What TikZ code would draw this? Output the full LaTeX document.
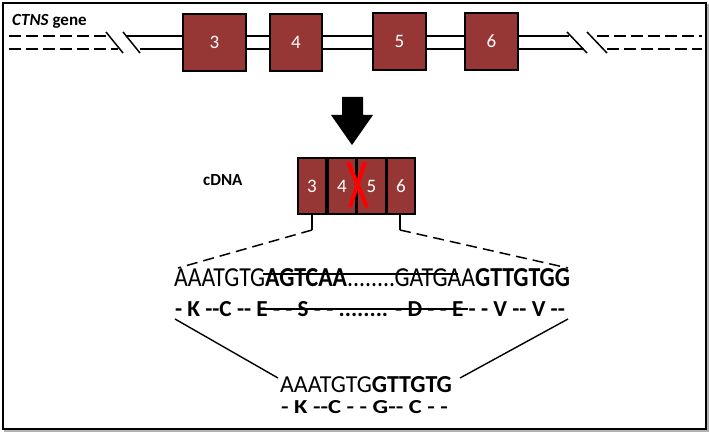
\documentclass[tikz,border=0pt]{standalone}
\usepackage{fontspec}
\setmainfont{Carlito}
\usepackage{graphicx}
\definecolor{exred}{RGB}{150,55,53}
\definecolor{xred}{RGB}{255,0,0}
\begin{document}
\begin{tikzpicture}[x=1pt,y=-1pt,
  exon/.style={draw=black,line width=2pt,fill=exred,text=white,font=\fontsize{19}{19}\selectfont,inner sep=0pt},
  cell/.style={fill=exred,text=white,font=\fontsize{19}{19}\selectfont,inner sep=0pt,draw=none},
  gline/.style={line width=1.5pt,black},
  gdash/.style={line width=1.5pt,black,dash pattern=on 12pt off 5pt},
  zoomdash/.style={line width=1.5pt,black,dash pattern=on 11pt off 6pt},
  zoomline/.style={line width=1.4pt,black},
  seq/.style={anchor=base west,inner sep=0pt,outer sep=0pt},
  strike/.style={line width=1.2pt,black}]
\useasboundingbox (0,0) rectangle (709,433);
% frame
\draw[line width=2pt,gray!60] (5,5) rectangle (708,431);
\draw[line width=2.5pt,black,fill=white] (3,3) rectangle (706,429);

% label
\node[anchor=west,inner sep=0pt,font=\fontsize{17}{17}\selectfont\bfseries] (lbl) at (12,21) {\textit{CTNS} gene};

% gene backbone
\coordinate (lt0) at (9,36);   \coordinate (lt1) at (107,36);
\coordinate (lb0) at (9,49);   \coordinate (lb1) at (118,49);
\coordinate (s1a) at (106,32); \coordinate (s1b) at (123,53);
\coordinate (s2a) at (123,32); \coordinate (s2b) at (140,53);
\coordinate (mt0) at (126,36); \coordinate (mt1) at (569,36);
\coordinate (mb0) at (140,49); \coordinate (mb1) at (584,49);
\coordinate (r1a) at (567,32); \coordinate (r1b) at (587,53);
\coordinate (r2a) at (587,32); \coordinate (r2b) at (607,53);
\coordinate (rt0) at (597,36); \coordinate (rt1) at (702,36);
\coordinate (rb0) at (607,49); \coordinate (rb1) at (702,49);
\draw[gdash] (lt0) -- (lt1);
\draw[gdash] (lb0) -- (lb1);
\draw[gline] (s1a) -- (s1b);
\draw[gline] (s2a) -- (s2b);
\draw[gline] (mt0) -- (mt1);
\draw[gline] (mb0) -- (mb1);
\draw[gline] (r1a) -- (r1b);
\draw[gline] (r2a) -- (r2b);
\draw[gdash] (rt0) -- (rt1);
\draw[gdash] (rb0) -- (rb1);

% exons
\node[exon,minimum width=63pt,minimum height=57pt] (e3) at (214.5,42.5) {3};
\node[exon,minimum width=52pt,minimum height=57pt] (e4) at (296,42.5) {4};
\node[exon,minimum width=53pt,minimum height=57pt] (e5) at (399.5,41.5) {5};
\node[exon,minimum width=53pt,minimum height=57pt] (e6) at (491.5,41.5) {6};

% big arrow
\fill[black] (342,97) -- (363,97) -- (363,115) -- (373,115) -- (352,145) -- (331,115) -- (342,115) -- cycle;

% cDNA
\node[anchor=west,inner sep=0pt,font=\fontsize{17}{17}\selectfont\bfseries] (cdl) at (203,180) {cDNA};
\fill[black] (297,157) rectangle (416,215);
\node[cell,minimum width=26pt,minimum height=54pt] (c3) at (312,186) {3};
\node[cell,minimum width=26pt,minimum height=54pt] (c4) at (342,186) {4};
\node[cell,minimum width=27pt,minimum height=54pt] (c5) at (371.5,186) {5};
\node[cell,minimum width=26pt,minimum height=54pt] (c6) at (401,186) {6};
% red X
\draw[xred,line width=4pt] (348,162) -- (367,207);
\draw[xred,line width=4pt] (365,162) -- (350,207);

% zoom lines
\coordinate (tl0) at (312,215); \coordinate (tl1) at (312,230);
\coordinate (tr0) at (400,215); \coordinate (tr1) at (400,230);
\coordinate (dl) at (178,268);  \coordinate (dr) at (568,268);
\draw[zoomline] (tl0) -- (tl1);
\draw[zoomline] (tr0) -- (tr1);
\draw[zoomdash] (tl1) -- (dl);
\draw[zoomdash] (tr1) -- (dr);

% sequences
\node[seq] (seq1) at (174,286) {\resizebox{396pt}{18pt}{\fontsize{24}{24}\selectfont AAATGTG\textbf{AGTCAA}........GATGAA\textbf{GTTGTGG}}};
\node[seq] (prot1) at (175,316) {\resizebox{390pt}{15pt}{\fontsize{20}{20}\selectfont\bfseries - K -{}-C -{}- E - - S - - ........ - D - - E - - V -{}- V -{}-}};
\draw[strike] (263,274) -- (458,274);
\draw[strike] (258,309) -- (468,309);

% lower zoom lines
\coordinate (ll0) at (175,319); \coordinate (ll1) at (278,378);
\coordinate (rl0) at (568,319); \coordinate (rl1) at (460,378);
\draw[zoomline] (ll0) -- (ll1);
\draw[zoomline] (rl0) -- (rl1);

\node[seq] (seq2) at (280,392) {\resizebox{172pt}{16pt}{\fontsize{22}{22}\selectfont AAATGTG\textbf{GTTGTG}}};
\node[seq] (prot2) at (281,413) {\resizebox{167pt}{13pt}{\fontsize{18}{18}\selectfont\bfseries - K -{}-C - - G-{}- C - -}};
\end{tikzpicture}
\end{document}
